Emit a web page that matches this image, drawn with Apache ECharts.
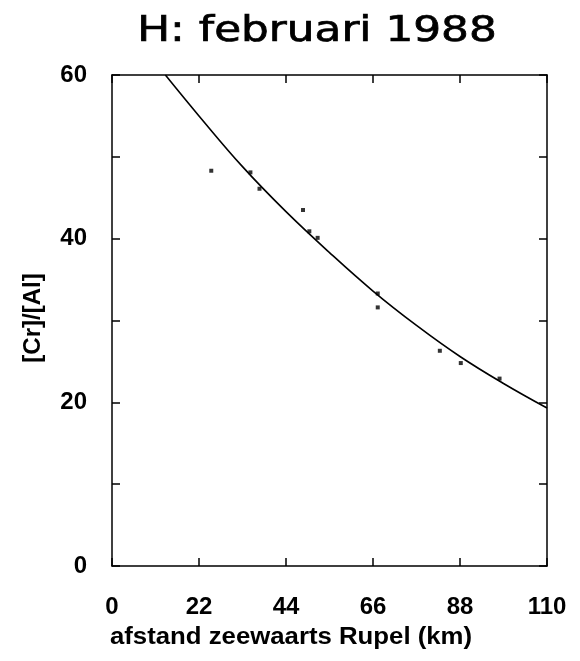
<!DOCTYPE html>
<html>
<head>
<meta charset="utf-8">
<script src="https://cdn.jsdelivr.net/npm/echarts@6/dist/echarts.min.js"></script>
<style>html,body{margin:0;padding:0;background:#fff;}#c{width:580px;height:661px;}</style>
</head>
<body>
<div id="c"></div>
<script>
var titleText = 'H: februari 1988';
var xName = 'afstand zeewaarts Rupel (km)';
var yName = '[Cr]/[Al]';
// measured points
var pointKm    = [25.1, 35.0, 37.3, 48.3, 49.9, 52.0, 67.2, 67.2, 82.9, 88.2, 98.0];
var pointRatio = [48.3, 48.1, 46.1, 43.5, 40.9, 40.1, 33.3, 31.6, 26.3, 24.8, 22.9];
// fitted curve
var curveKm    = [13.5, 22, 33, 44, 55, 66, 77, 88, 99, 110];
var curveRatio = [60.0, 55.0, 48.8, 43.3, 38.3, 33.6, 29.4, 25.6, 22.3, 19.3];

var font = 'Liberation Sans, Arial, Helvetica, sans-serif';
var chart = echarts.init(document.getElementById('c'), null, {renderer: 'canvas'});
var lineStyle = {color: '#000', width: 1.5};
function mk(a, b) { return a.map(function (v, i) { return [v, b[i]]; }); }
var xBase = {
  type: 'value', min: 0, max: 110, interval: 22,
  axisLine: {show: true, onZero: false, lineStyle: lineStyle},
  axisTick: {show: true, inside: true, length: 8, lineStyle: lineStyle},
  splitLine: {show: false}
};
var yBase = {
  type: 'value', min: 0, max: 60, interval: 10,
  axisLine: {show: true, onZero: false, lineStyle: lineStyle},
  axisTick: {show: true, inside: true, length: 8, lineStyle: lineStyle},
  splitLine: {show: false}
};
chart.setOption({
  animation: false,
  backgroundColor: '#fff',
  grid: {left: 112, right: 33, top: 75, bottom: 95},
  xAxis: [
    Object.assign({}, xBase, {
      position: 'bottom',
      axisLabel: {show: true, margin: 29, color: '#000', fontFamily: font, fontSize: 24, fontWeight: 'bold'}
    }),
    Object.assign({}, xBase, {position: 'top', axisLabel: {show: false}})
  ],
  yAxis: [
    Object.assign({}, yBase, {
      position: 'left',
      axisLabel: {
        show: true, margin: 25, color: '#000', fontFamily: font, fontSize: 24, fontWeight: 'bold',
        formatter: function (v) { return v % 20 === 0 ? String(v) : ''; }
      }
    }),
    Object.assign({}, yBase, {position: 'right', axisLabel: {show: false}})
  ],
  graphic: [
    {type: 'text', x: 317, y: 32, scaleX: 1.25, scaleY: 1,
     style: {text: titleText, fill: '#000', stroke: '#000', lineWidth: 0.7,
             font: '35px DejaVu Sans, sans-serif', align: 'center', verticalAlign: 'middle'}},
    {type: 'text', x: 291, y: 638, scaleX: 1.12, scaleY: 1,
     style: {text: xName, fill: '#000', font: 'bold 23px ' + font, align: 'center', verticalAlign: 'middle'}},
    {type: 'text', x: 33, y: 318, rotation: Math.PI / 2,
     style: {text: yName, fill: '#000', font: 'bold 24px ' + font, align: 'center', verticalAlign: 'middle'}}
  ],
  series: [
    {type: 'line', xAxisIndex: 0, yAxisIndex: 0, data: mk(curveKm, curveRatio),
     smooth: 0.4, showSymbol: false, symbol: 'none', clip: true,
     lineStyle: {color: '#000', width: 1.6}},
    {type: 'scatter', xAxisIndex: 0, yAxisIndex: 0, data: mk(pointKm, pointRatio),
     symbol: 'rect', symbolSize: 4, itemStyle: {color: '#000'}}
  ]
});
</script>
</body>
</html>
